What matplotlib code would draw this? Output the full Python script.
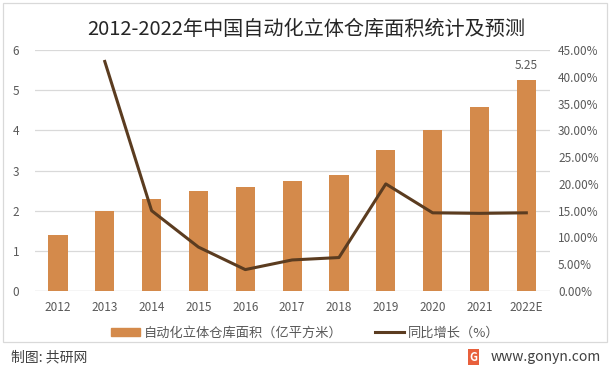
import matplotlib
matplotlib.use("Agg")
import matplotlib.pyplot as plt
from matplotlib.lines import Line2D
from matplotlib.patches import Rectangle
from matplotlib.ticker import FuncFormatter

plt.rcParams['font.family'] = ['Noto Sans CJK SC', 'DejaVu Sans']

# ------------------------------------------------------------------ data ---
years = ["2012", "2013", "2014", "2015", "2016", "2017",
         "2018", "2019", "2020", "2021", "2022E"]
area = [1.40, 2.00, 2.30, 2.48, 2.58, 2.73, 2.90, 3.50, 4.00, 4.58, 5.25]
growth = [None, 42.86, 15.00, 8.20, 4.00, 5.80, 6.25, 20.00, 14.60, 14.50, 14.60]

BAR = "#D48A4B"
LINE = "#5B3C20"
GRID = "#D9D9D9"
TXT = "#595959"

fig = plt.figure(figsize=(6.13, 3.72), dpi=100)
ax = fig.add_axes([0.0563, 0.2177, 0.8405, 0.6479])

x = list(range(len(years)))
ax.bar(x, area, width=0.41, color=BAR, zorder=2)
ax.set_xlim(-0.5, len(years) - 0.5)
ax.set_ylim(0, 6)
ax.set_yticks(range(0, 7))
ax.yaxis.grid(True, color=GRID, lw=0.9, zorder=0)
ax.set_xticks(x)
ax.set_xticklabels(years)
ax.tick_params(axis="both", length=0, labelsize=8.5, colors=TXT)
ax.tick_params(axis="x", pad=7)
ax.tick_params(axis="y", pad=11)
for s in ax.spines.values():
    s.set_visible(False)
ax.axhline(0, color=GRID, lw=0.9, zorder=1)

ax.annotate(f"{area[-1]:.2f}", (x[-1], area[-1]), xytext=(0, 6),
            textcoords="offset points", ha="center", va="bottom",
            fontsize=8.5, color=TXT)

ax2 = ax.twinx()
gx = [i for i, g in zip(x, growth) if g is not None]
gy = [g for g in growth if g is not None]
ax2.plot(gx, gy, color=LINE, lw=2.2, zorder=3)
ax2.set_ylim(0, 45)
ax2.set_yticks(range(0, 50, 5))
ax2.yaxis.set_major_formatter(FuncFormatter(lambda v, p: f"{v:.2f}%"))
ax2.tick_params(axis="y", length=0, labelsize=8.5, colors=TXT, pad=6)
for s in ax2.spines.values():
    s.set_visible(False)

fig.text(0.5, 0.922, "2012-2022年中国自动化立体仓库面积统计及预测",
         ha="center", va="center", fontsize=14.5, color="#262626")

handles = [Rectangle((0, 0), 1, 1, color=BAR),
           Line2D([0], [0], color=LINE, lw=2.2)]
fig.legend(handles, ["自动化立体仓库面积（亿平方米）", "同比增长（%）"],
           loc="center", bbox_to_anchor=(0.498, 0.105), ncol=2, frameon=False,
           fontsize=9.5, handlelength=2.2, handleheight=0.6,
           handletextpad=0.3, columnspacing=2.5, labelcolor=TXT)

# chart frame and footer
fig.add_artist(Rectangle((0.005, 0.08), 0.985, 0.912, transform=fig.transFigure,
                         fill=False, edgecolor=GRID, lw=0.9))
fig.text(0.018, 0.04, "制图: 共研网", ha="left", va="center",
         fontsize=10, color="#404040")
fig.text(0.98, 0.04, "www.gonyn.com", ha="right", va="center",
         fontsize=10, color="#404040")
fig.text(0.772, 0.04, "G", ha="center", va="center", fontsize=8,
         fontweight="bold", color="white",
         bbox=dict(boxstyle="square,pad=0.15", fc="#E8603C", ec="none"))

fig.savefig("out.png", dpi=100, facecolor="white")
